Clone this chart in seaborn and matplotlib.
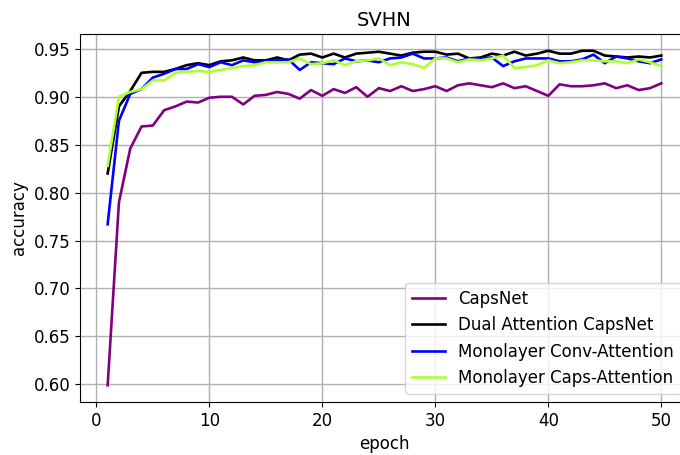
import numpy as np
import pandas as pd
import seaborn as sns
from matplotlib import pyplot as plt

epochs = list(range(1, 51))

capsnet = [0.599, 0.790, 0.846, 0.869, 0.870, 0.886, 0.890, 0.895, 0.894, 0.899,
           0.900, 0.900, 0.892, 0.901, 0.902, 0.905, 0.903, 0.898, 0.907, 0.901,
           0.908, 0.904, 0.910, 0.900, 0.909, 0.906, 0.911, 0.906, 0.908, 0.911,
           0.906, 0.912, 0.914, 0.912, 0.910, 0.914, 0.909, 0.911, 0.906, 0.901,
           0.913, 0.911, 0.911, 0.912, 0.914, 0.909, 0.912, 0.907, 0.909, 0.914]

dual_attention = [0.820, 0.890, 0.906, 0.925, 0.926, 0.926, 0.929, 0.933, 0.935, 0.933,
                  0.937, 0.938, 0.941, 0.938, 0.938, 0.941, 0.938, 0.944, 0.945, 0.941,
                  0.945, 0.941, 0.945, 0.946, 0.947, 0.945, 0.943, 0.946, 0.947, 0.947,
                  0.944, 0.945, 0.940, 0.941, 0.945, 0.943, 0.947, 0.943, 0.945, 0.948,
                  0.945, 0.945, 0.948, 0.948, 0.943, 0.942, 0.941, 0.942, 0.941, 0.943]

conv_attention = [0.767, 0.875, 0.903, 0.908, 0.920, 0.924, 0.929, 0.929, 0.934, 0.931,
                  0.936, 0.933, 0.938, 0.936, 0.937, 0.938, 0.939, 0.928, 0.936, 0.935,
                  0.934, 0.940, 0.937, 0.938, 0.936, 0.940, 0.941, 0.945, 0.940, 0.940,
                  0.941, 0.937, 0.940, 0.940, 0.941, 0.932, 0.937, 0.940, 0.940, 0.940,
                  0.937, 0.937, 0.939, 0.944, 0.935, 0.942, 0.940, 0.937, 0.935, 0.939]

caps_attention = [0.828, 0.900, 0.905, 0.908, 0.917, 0.917, 0.925, 0.926, 0.927, 0.926,
                  0.928, 0.930, 0.932, 0.933, 0.936, 0.936, 0.936, 0.940, 0.934, 0.935,
                  0.938, 0.933, 0.937, 0.938, 0.940, 0.933, 0.936, 0.934, 0.930, 0.940,
                  0.940, 0.936, 0.939, 0.938, 0.940, 0.943, 0.930, 0.931, 0.933, 0.938,
                  0.935, 0.936, 0.938, 0.938, 0.937, 0.937, 0.935, 0.939, 0.936, 0.932]

series_names = ["CapsNet", "Dual Attention CapsNet",
                "Monolayer Conv-Attention", "Monolayer Caps-Attention"]
series_colors = ["purple", "black", "blue", "greenyellow"]

df = pd.DataFrame({
    "epoch": epochs * 4,
    "accuracy": capsnet + dual_attention + conv_attention + caps_attention,
    "model": np.repeat(series_names, len(epochs)),
})

plt.rcParams["font.family"] = ["DejaVu Sans"]
plt.rcParams["font.size"] = 12

fig = plt.figure(figsize=(6.8, 4.55), dpi=100)
# the axes runs a little past the right edge, as in the cropped original
ax = fig.add_axes([0.1176, 0.1165, 0.8956, 0.8088])

sns.lineplot(data=df, x="epoch", y="accuracy", hue="model",
             palette=dict(zip(series_names, series_colors)),
             hue_order=series_names, linewidth=1.9, ax=ax)

ax.grid(True, color="#b0b0b0", linewidth=1.0)
ax.set_axisbelow(True)
ax.set_xlim(-1.45, 52.45)
ax.set_ylim(0.5816, 0.9655)
ax.set_yticks([0.60, 0.65, 0.70, 0.75, 0.80, 0.85, 0.90, 0.95])
ax.yaxis.set_major_formatter(plt.FormatStrFormatter("%.2f"))
ax.set_xticks([0, 10, 20, 30, 40, 50])
ax.set_title("SVHN", fontsize=14)
ax.set_xlabel("epoch", fontsize=12)
ax.set_ylabel("accuracy", fontsize=12)

leg = ax.legend(loc="lower right", fontsize=12, title=None)
for line in leg.get_lines():
    line.set_linewidth(1.9)

fig.savefig("out.png", dpi=100)
